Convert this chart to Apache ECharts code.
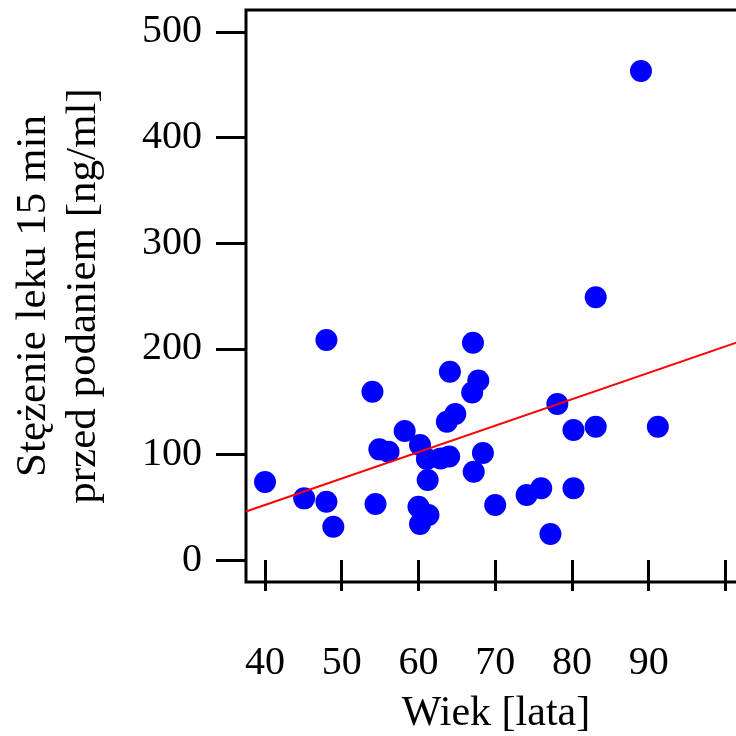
<!DOCTYPE html>
<html>
<head>
<meta charset="utf-8">
<script src="https://cdn.jsdelivr.net/npm/echarts@6/dist/echarts.min.js"></script>
<style>
html,body{margin:0;padding:0;background:#fff;}
#chart{width:736px;height:736px;}
</style>
</head>
<body>
<div id="chart"></div>
<script>
// Data
var ageValues = [40.0, 45.1, 48.0, 48.0, 48.9, 54.0, 54.9, 54.4, 56.1, 58.2, 60.0, 60.2, 60.2, 61.2, 61.3, 61.1, 62.9, 64.1, 63.7, 64.0, 64.8, 67.1, 67.0, 67.8, 67.2, 68.4, 70.0, 74.1, 76.0, 77.2, 78.1, 80.2, 80.2, 83.1, 83.1, 89.0, 91.2];
var concValues = [73.9, 58.4, 55.2, 208.3, 31.5, 159.4, 104.8, 53.0, 102.6, 122.2, 50.5, 108.9, 34.1, 75.8, 42.6, 95.6, 96.1, 178.3, 131.0, 98.0, 138.3, 205.8, 158.6, 170.0, 83.6, 101.3, 52.1, 61.6, 67.9, 24.6, 147.7, 123.1, 67.9, 248.8, 126.2, 463.1, 126.2];
var trendX = [37.52, 102.69];
var trendY = [46.0, 209.0];
var xTicks = [40, 50, 60, 70, 80, 90, 100];
var xTickLabels = [40, 50, 60, 70, 80, 90];
var yTicks = [0, 100, 200, 300, 400, 500];
var xTitle = 'Wiek [lata]';
var yTitle = 'Stężenie leku 15 min\nprzed podaniem [ng/ml]';

var points = ageValues.map(function (a, i) { return [a, concValues[i]]; });
var trend = trendX.map(function (x, i) { return [x, trendY[i]]; });

var FONT = 'Liberation Serif';
var chart = echarts.init(document.getElementById('chart'), null, {renderer: 'canvas'});
chart.setOption({
  animation: false,
  backgroundColor: '#ffffff',
  grid: {
    left: 246, top: 10, width: 500, height: 572,
    outerBoundsMode: 'none', containLabel: false,
    show: true, borderColor: '#000', borderWidth: 3, backgroundColor: 'transparent'
  },
  xAxis: {
    type: 'value', min: 37.52, max: 102.69,
    splitLine: {show: false},
    axisLine: {show: false},
    axisTick: {show: true, customValues: xTicks, length: 31, lineStyle: {color: '#000', width: 3}},
    axisLabel: {customValues: xTickLabels, margin: 61, color: '#000', fontFamily: FONT, fontSize: 40},
    name: xTitle, nameLocation: 'middle', nameGap: 111,
    nameTextStyle: {color: '#000', fontFamily: FONT, fontSize: 42}
  },
  yAxis: {
    type: 'value', min: -20.8, max: 520.8,
    splitLine: {show: false},
    axisLine: {show: false},
    axisTick: {show: true, customValues: yTicks, length: 30, lineStyle: {color: '#000', width: 3}},
    axisLabel: {customValues: yTicks, margin: 44, color: '#000', fontFamily: FONT, fontSize: 40},
    name: yTitle, nameLocation: 'middle', nameGap: 137, nameRotate: 90,
    nameTextStyle: {color: '#000', fontFamily: FONT, fontSize: 43, lineHeight: 50}
  },
  series: [
    {
      type: 'scatter', data: points, symbol: 'circle', symbolSize: 22,
      itemStyle: {color: '#0000ff', opacity: 1}, z: 2
    },
    {
      type: 'line', data: trend, symbol: 'none', clip: true,
      lineStyle: {color: '#ff0000', width: 2}, z: 3
    }
  ]
});
</script>
</body>
</html>
